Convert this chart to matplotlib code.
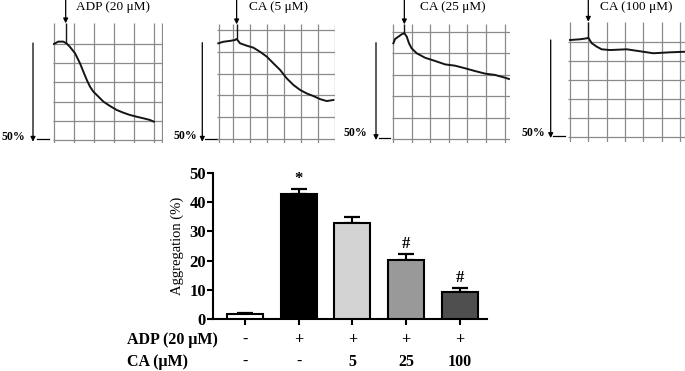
import numpy as np
import matplotlib
matplotlib.use("Agg")
import matplotlib.pyplot as plt
from matplotlib.transforms import blended_transform_factory

plt.rcParams['font.family'] = ['Liberation Serif', 'DejaVu Serif']

# ---------------- data ----------------
# aggregation traces (x: chart grid divisions, y: % aggregation, 10 % per division)
trace_labels = ['ADP (20 μM)', 'CA (5 μM)', 'CA (25 μM)', 'CA (100 μM)']
inject_time = [0.57, 0.23, 0.61, 1.0]

t1 = [-0.02, 0.2, 0.45, 0.61, 0.78, 1.04, 1.29, 1.46, 1.63, 1.79, 1.96, 2.21, 2.46,
      2.79, 3.13, 3.46, 3.79, 4.12, 4.45, 4.79, 4.99]
v1 = [-0.2, -1.4, -1.4, -0.5, 1.3, 4.7, 10.0, 14.4, 18.7, 22.2, 24.8, 27.4, 30.0,
      32.3, 34.4, 35.8, 37.0, 37.9, 38.7, 39.6, 40.5]

t2 = [-0.84, -0.55, -0.16, 0.13, 0.23, 0.43, 0.82, 1.21, 1.6, 1.99, 2.38, 2.77, 3.16,
      3.55, 3.94, 4.33, 4.72, 5.11, 5.5, 5.89]
v2 = [6.1, 5.4, 5.0, 4.6, 4.1, 6.1, 7.2, 8.1, 10.0, 12.2, 15.3, 18.3, 22.2,
      25.2, 27.5, 29.1, 30.3, 31.7, 32.6, 32.1]

t3 = [0.02, 0.11, 0.29, 0.47, 0.61, 0.74, 0.86, 1.0, 1.27, 1.72, 2.26, 2.8, 3.33,
      3.87, 4.41, 4.95, 5.48, 6.02, 6.24]
v3 = [5.4, 3.4, 2.3, 1.2, 0.7, 2.3, 5.4, 7.7, 10.0, 12.1, 13.6, 15.2, 15.8,
      17.0, 18.3, 19.5, 20.1, 21.4, 22.0]

t4 = [0.0, 0.55, 0.91, 1.0, 1.19, 1.46, 1.73, 2.19, 3.1, 4.0, 4.55, 4.92, 5.46, 6.28]
v4 = [-1.2, -1.6, -2.1, -2.4, 0.5, 2.3, 3.7, 4.1, 3.7, 5.0, 5.8, 5.6, 5.3, 5.0]

traces_t = [t1, t2, t3, t4]
traces_v = [v1, v2, v3, v4]

# bar chart
aggregation = [1.7, 42.8, 33.0, 20.2, 9.3]
agg_err = [0.3, 1.8, 1.8, 2.0, 1.3]
bar_colors = ['white', 'black', '#d3d3d3', '#999999', '#4f4f4f']
sig_marks = ['', '*', '', '#', '#']
adp_row = ['-', '+', '+', '+', '+']
ca_row = ['-', '-', '5', '25', '100']
y_ticks = [0, 10, 20, 30, 40, 50]

# ---------------- layout ----------------
W, H = 685, 371
fig = plt.figure(figsize=(W / 100, H / 100), dpi=100)


def px_axes(l, t, r, b):
    return fig.add_axes([l / W, 1 - b / H, (r - l) / W, (b - t) / H])


# overlay for decorations in pixel space
deco = px_axes(0, 0, W, H)
deco.set_xlim(0, W)
deco.set_ylim(H, 0)
deco.axis('off')

panels = [
    dict(h=(53, 163), v=(23.3, 143), x0=54.3, xc=19.95, y0=44.3, yc=19.1,
         vl=[0, 1, 2, 3, 4, 5, 5.41], lab=113, arr=(33, 43, 141.7), tk=(37, 49, 139), pct=(1, 137)),
    dict(h=(217, 335), v=(24.3, 143), x0=232.7, xc=17.1, y0=30, yc=21.8,
         vl=[-0.78, 0, 1, 2, 3, 4, 5, 6], lab=278.5, arr=(202.3, 42.7, 141.7), tk=(205, 218, 139), pct=(174, 136)),
    dict(h=(392, 510), v=(24.3, 143), x0=393, xc=18.6, y0=31.7, yc=21.5,
         vl=[0, 1, 2, 3, 4, 5, 6], lab=453, arr=(376, 42.7, 140), tk=(379, 390, 137.7), pct=(344, 133.5)),
    dict(h=(568, 685), v=(21.7, 141.7), x0=570, xc=18.3, y0=42.3, yc=18.9,
         vl=[0, 1, 2, 3, 4, 5, 6], lab=636.5, arr=(550.7, 40, 138), tk=(553, 565, 136), pct=(522, 133.5)),
]

grid_c = '#8a8a8a'
for i, p in enumerate(panels):
    hx0, hx1 = p['h']
    vt, vb = p['v']
    ax = px_axes(hx0, vt, hx1, vb)
    xlo, xhi = (hx0 - p['x0']) / p['xc'], (hx1 - p['x0']) / p['xc']
    ylo, yhi = (vb - p['y0']) / p['yc'] * 10, (vt - p['y0']) / p['yc'] * 10
    ax.set_xlim(xlo, xhi)
    ax.set_ylim(ylo, yhi)
    ax.axis('off')
    ax.vlines(p['vl'], ylo, yhi, color=grid_c, lw=0.9)
    ax.hlines([0, 10, 20, 30, 40, 50], xlo, xhi, color=grid_c, lw=0.9)
    ax.plot(traces_t[i], traces_v[i], color='#151515', lw=1.4, solid_joinstyle='round')
    ti = inject_time[i]
    yi = np.interp(ti, traces_t[i], traces_v[i])
    ax.vlines([ti], yhi, yi, color='#151515', lw=1.0)
    ax.annotate('', xy=(ti, 1.0), xycoords=('data', 'axes fraction'),
                xytext=(ti, 1.0), textcoords=('data', 'figure fraction'),
                arrowprops=dict(arrowstyle='-|>', lw=0.9, color='black',
                                mutation_scale=7, shrinkA=0, shrinkB=0),
                annotation_clip=False)
    fig.text(p['lab'] / W, 1 - 7 / H, trace_labels[i], ha='center', va='center', fontsize=9.5)
    ax_, y1, y2 = p['arr']
    deco.annotate('', xy=(ax_, y2), xytext=(ax_, y1),
                  arrowprops=dict(arrowstyle='-|>', lw=0.9, color='black',
                                  mutation_scale=7, shrinkA=0, shrinkB=0))
    deco.plot([p['tk'][0], p['tk'][1]], [p['tk'][2], p['tk'][2]], color='black', lw=0.9)
    deco.text(p['pct'][0], p['pct'][1], '50%', ha='left', va='center', fontsize=8.5, fontweight='bold')

# ---------------- bar chart ----------------
bx = px_axes(213, 173, 487, 319)
x = np.arange(len(aggregation))
bx.bar(x, aggregation, width=0.67, color=bar_colors, edgecolor='black', linewidth=1.5, zorder=3)
bx.errorbar(x, aggregation, yerr=[np.zeros(len(agg_err)), agg_err], fmt='none',
            ecolor='black', elinewidth=1.5, capsize=5.5, capthick=1.6, zorder=2)
for xi, a, e, m in zip(x, aggregation, agg_err, sig_marks):
    if m:
        bx.annotate(m, (xi, a + e), xytext=(0, 7), textcoords='offset points',
                    ha='center', va='center', fontsize=12, fontweight='bold')
bx.set_xlim(-0.597, 4.51)
bx.set_ylim(0, 50)
bx.set_yticks(y_ticks)
bx.set_xticks(x)
bx.set_xticklabels([])
for s in ['top', 'right']:
    bx.spines[s].set_visible(False)
for s in ['left', 'bottom']:
    bx.spines[s].set_linewidth(1.5)
bx.tick_params(axis='both', width=1.5, length=4, pad=1)
for lab in bx.get_yticklabels():
    lab.set_fontweight('bold')
    lab.set_fontsize(12)
bx.set_ylabel('Aggregation (%)', fontsize=10.5, labelpad=4)

tr = blended_transform_factory(bx.transData, bx.transAxes)
row_y = [(319 - 340) / 146, (319 - 362) / 146]
for xi, a, c in zip(x, adp_row, ca_row):
    bx.text(xi, row_y[0], a, transform=tr, ha='center', va='center', fontsize=11.5, fontweight='bold')
    bx.text(xi, row_y[1], c, transform=tr, ha='center', va='center', fontsize=11.5, fontweight='bold')
fig.text(127 / W, 1 - 340 / H, 'ADP (20 μM)', ha='left', va='center', fontsize=11.5, fontweight='bold')
fig.text(127 / W, 1 - 362 / H, 'CA (μM)', ha='left', va='center', fontsize=11.5, fontweight='bold')

fig.savefig('out.png', dpi=100)
